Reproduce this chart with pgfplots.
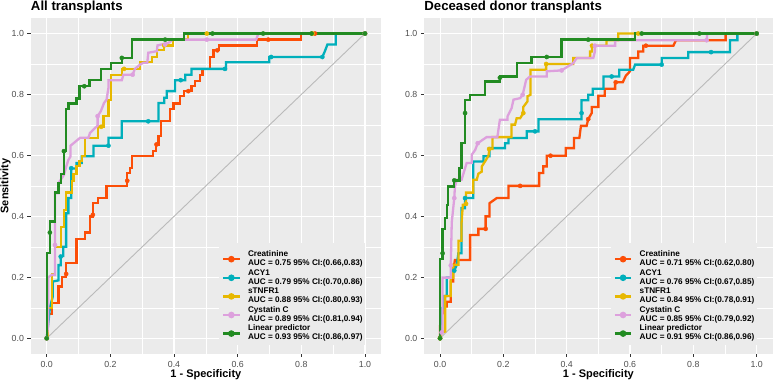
\documentclass[border=0pt]{standalone}
\usepackage{fontspec}
\setmainfont{Liberation Sans}
\usepackage{pgfplots}
\pgfplotsset{compat=1.18}
\definecolor{ggbg}{HTML}{EBEBEB}
\definecolor{cCre}{HTML}{FC4E07}
\definecolor{cACY}{HTML}{00AFBB}
\definecolor{cTNF}{HTML}{E7B800}
\definecolor{cCys}{HTML}{DDA0DD}
\definecolor{cLin}{HTML}{228B22}
\definecolor{ticktext}{HTML}{4D4D4D}
\definecolor{tickmark}{HTML}{333333}
\pgfplotsset{
  ggroc/.style={
    scale only axis, height=335.2bp,
    xmin=-0.05, xmax=1.05, ymin=-0.05, ymax=1.05,
    axis background/.style={fill=ggbg},
    axis line style={draw=none},
    xtick={0,0.2,0.4,0.6,0.8,1}, xticklabels={0.0,0.2,0.4,0.6,0.8,1.0},
    ytick={0,0.2,0.4,0.6,0.8,1}, yticklabels={0.0,0.2,0.4,0.6,0.8,1.0},
    minor xtick={0.1,0.3,0.5,0.7,0.9}, minor ytick={0.1,0.3,0.5,0.7,0.9},
    grid=both,
    major grid style={white, line width=1.07bp},
    minor grid style={white, line width=0.53bp},
    tick align=outside, tick pos=left,
    major tick length=3.3bp, minor tick length=0pt,
    every tick/.style={tickmark, line width=0.53bp},
    tick label style={font=\fontsize{8.8bp}{10bp}\selectfont, text=ticktext},
    xticklabel style={yshift=-1bp},
    xlabel={1 - Specificity}, ylabel={Sensitivity},
    label style={font=\fontsize{11bp}{13bp}\selectfont\bfseries},
    xlabel style={at={(axis description cs:0.5,-0.0716)}, anchor=base, inner sep=0pt},
    ylabel style={at={(axis description cs:-0.0723,0.5)}, anchor=center, inner sep=0pt},
    every axis title shift=0pt,
    title style={at={(0,1)}, anchor=base west, yshift=7.3bp, inner sep=0pt,
      font=\fontsize{13.2bp}{15bp}\selectfont\bfseries},
    legend style={fill=ggbg, draw=none,
      font=\fontsize{8.2bp}{9bp}\selectfont\bfseries,
      inner xsep=2.7bp, inner ysep=2bp, row sep=0.6bp, column sep=7.2bp,
      nodes={inner sep=0pt, text depth=}, cells={anchor=west}},
    legend image code/.code={
      \draw[#1,mark=none] (0bp,0bp) -- (16.6bp,0bp);
      \draw[#1,only marks] plot coordinates {(8.3bp,0bp)};},
  },
  roc/.style={#1, line width=2.3bp, mark=none, forget plot},
  pts/.style={#1, only marks, mark=*, mark size=2.1bp, mark options={solid, fill=#1, draw=#1}, forget plot},
  diag/.style={color=black!27, line width=0.9bp, forget plot},
}
\begin{document}
\begin{tikzpicture}
\useasboundingbox (0,0) rectangle (774bp,382bp);
% ---------------- Left panel ----------------
\begin{axis}[ggroc, at={(30.8bp,28.5bp)}, anchor=south west, width=350.1bp,
  title={All transplants},
  legend style={at={(0.5376,0.026)}, anchor=south west}]
\addplot[diag] coordinates {(0,0) (1,1)};
% Creatinine
\addplot[roc=cCre] coordinates {(0,0)(0.005,0)(0.005,0.08)(0.016,0.08)(0.016,0.115)(0.037,0.115)(0.037,0.17)(0.047,0.17)(0.047,0.2)(0.061,0.2)(0.061,0.248)(0.094,0.248)(0.094,0.325)(0.12,0.325)(0.12,0.347)(0.136,0.347)(0.136,0.40)(0.145,0.40)(0.145,0.443)(0.162,0.443)(0.162,0.46)(0.188,0.46)(0.188,0.50)(0.253,0.50)(0.253,0.542)(0.262,0.542)(0.262,0.558)(0.269,0.558)(0.269,0.597)(0.335,0.597)(0.335,0.614)(0.343,0.614)(0.343,0.636)(0.351,0.636)(0.351,0.663)(0.358,0.663)(0.358,0.712)(0.387,0.712)(0.387,0.753)(0.398,0.753)(0.398,0.77)(0.419,0.77)(0.419,0.794)(0.431,0.794)(0.431,0.811)(0.455,0.811)(0.455,0.827)(0.466,0.827)(0.466,0.844)(0.482,0.844)(0.482,0.865)(0.489,0.865)(0.489,0.884)(0.513,0.884)(0.513,0.923)(0.524,0.923)(0.524,0.945)(0.541,0.945)(0.541,0.961)(0.66,0.961)(0.66,0.98)(0.799,0.98)(0.799,1)(1,1)};
\addplot[pts=cCre] coordinates {(0,0)(0.061,0.211)(0.145,0.405)(0.253,0.517)(0.345,0.636)(0.445,0.811)(0.536,0.945)(0.696,0.98)(0.843,1)(1,1)};
% ACY1
\addplot[roc=cACY] coordinates {(0,0)(0.005,0.05)(0.01,0.1)(0.019,0.137)(0.019,0.186)(0.037,0.19)(0.037,0.24)(0.044,0.24)(0.044,0.27)(0.052,0.27)(0.052,0.30)(0.061,0.30)(0.061,0.41)(0.068,0.41)(0.068,0.46)(0.077,0.46)(0.077,0.557)(0.094,0.557)(0.094,0.575)(0.110,0.575)(0.110,0.597)(0.147,0.597)(0.147,0.632)(0.194,0.632)(0.194,0.658)(0.236,0.658)(0.236,0.712)(0.351,0.712)(0.351,0.772)(0.369,0.772)(0.369,0.789)(0.377,0.789)(0.377,0.811)(0.403,0.811)(0.403,0.847)(0.435,0.847)(0.435,0.865)(0.455,0.865)(0.455,0.884)(0.563,0.884)(0.563,0.906)(0.699,0.906)(0.699,0.923)(0.866,0.923)(0.874,0.942)(0.882,0.964)(0.908,0.964)(0.908,1)(1,1)};
\addplot[pts=cACY] coordinates {(0,0)(0.044,0.268)(0.077,0.558)(0.194,0.632)(0.319,0.712)(0.421,0.847)(0.56,0.884)(0.705,0.923)(0.866,0.923)(1,1)};
% sTNFR1
\addplot[roc=cTNF] coordinates {(0,0)(0.005,0)(0.005,0.1)(0.016,0.1)(0.016,0.21)(0.026,0.21)(0.026,0.30)(0.044,0.30)(0.044,0.364)(0.054,0.364)(0.054,0.421)(0.061,0.421)(0.061,0.478)(0.079,0.478)(0.079,0.517)(0.084,0.517)(0.084,0.54)(0.094,0.54)(0.094,0.565)(0.103,0.565)(0.103,0.581)(0.11,0.581)(0.11,0.597)(0.12,0.597)(0.12,0.658)(0.162,0.658)(0.162,0.694)(0.178,0.694)(0.178,0.729)(0.194,0.729)(0.194,0.783)(0.202,0.783)(0.202,0.865)(0.236,0.865)(0.236,0.884)(0.293,0.884)(0.293,0.906)(0.33,0.906)(0.33,0.923)(0.346,0.923)(0.346,0.945)(0.369,0.945)(0.369,0.961)(0.396,0.961)(0.396,0.98)(0.445,0.98)(0.445,1)(1,1)};
\addplot[pts=cTNF] coordinates {(0,0)(0.171,0.694)(0.243,0.884)(0.369,0.961)(0.503,1)(0.835,1)(1,1)};
% Cystatin C
\addplot[roc=cCys] coordinates {(0,0)(0.005,0.05)(0.005,0.2)(0.016,0.208)(0.026,0.208)(0.026,0.476)(0.037,0.476)(0.037,0.509)(0.044,0.52)(0.054,0.536)(0.063,0.569)(0.068,0.585)(0.075,0.597)(0.075,0.632)(0.105,0.658)(0.131,0.658)(0.136,0.674)(0.16,0.698)(0.16,0.729)(0.17,0.745)(0.18,0.772)(0.188,0.783)(0.194,0.822)(0.194,0.847)(0.236,0.847)(0.241,0.865)(0.27,0.865)(0.277,0.884)(0.293,0.898)(0.304,0.904)(0.316,0.904)(0.319,0.937)(0.346,0.942)(0.348,0.961)(0.382,0.969)(0.396,0.98)(0.658,0.98)(0.665,1)(1,1)};
\addplot[pts=cCys] coordinates {(0,0)(0.026,0.306)(0.16,0.729)(0.27,0.865)(0.372,0.964)(0.503,0.98)(1,1)};
% Linear predictor
\addplot[roc=cLin] coordinates {(0,0)(0,0.279)(0.01,0.279)(0.01,0.383)(0.026,0.383)(0.026,0.478)(0.037,0.478)(0.037,0.509)(0.044,0.509)(0.044,0.54)(0.054,0.54)(0.054,0.614)(0.061,0.614)(0.061,0.753)(0.068,0.753)(0.068,0.77)(0.094,0.77)(0.094,0.787)(0.103,0.787)(0.103,0.827)(0.134,0.827)(0.134,0.847)(0.170,0.847)(0.170,0.884)(0.202,0.884)(0.202,0.904)(0.236,0.904)(0.236,0.92)(0.267,0.92)(0.267,0.98)(0.431,0.98)(0.431,1)(1,1)};
\addplot[pts=cLin] coordinates {(0,0)(0.01,0.347)(0.054,0.614)(0.118,0.827)(0.236,0.92)(0.372,0.98)(0.521,1)(0.68,1)(0.832,1)(1,1)};
% legend
\addlegendimage{empty legend}\addlegendentry{\rule{0pt}{5bp}}
\addlegendimage{cCre, line width=2.3bp, mark=*, mark size=2.1bp, mark options={solid}}
\addlegendentry{\begin{tabular}{@{}l@{}}Creatinine\\AUC = 0.75 95\% CI:(0.66,0.83)\end{tabular}}
\addlegendimage{cACY, line width=2.3bp, mark=*, mark size=2.1bp, mark options={solid}}
\addlegendentry{\begin{tabular}{@{}l@{}}ACY1\\AUC = 0.79 95\% CI:(0.70,0.86)\end{tabular}}
\addlegendimage{cTNF, line width=2.3bp, mark=*, mark size=2.1bp, mark options={solid}}
\addlegendentry{\begin{tabular}{@{}l@{}}sTNFR1\\AUC = 0.88 95\% CI:(0.80,0.93)\end{tabular}}
\addlegendimage{cCys, line width=2.3bp, mark=*, mark size=2.1bp, mark options={solid}}
\addlegendentry{\begin{tabular}{@{}l@{}}Cystatin C\\AUC = 0.89 95\% CI:(0.81,0.94)\end{tabular}}
\addlegendimage{cLin, line width=2.3bp, mark=*, mark size=2.1bp, mark options={solid}}
\addlegendentry{\begin{tabular}{@{}l@{}}Linear predictor\\AUC = 0.93 95\% CI:(0.86,0.97)\end{tabular}}
\end{axis}
% ---------------- Right panel ----------------
\begin{axis}[ggroc, at={(424.2bp,28.5bp)}, anchor=south west, width=348.3bp,
  title={Deceased donor transplants},
  ylabel={},
  legend style={at={(0.5355,0.026)}, anchor=south west}]
\addplot[diag] coordinates {(0,0) (1,1)};
% Creatinine
\addplot[roc=cCre] coordinates {(0,0)(0,0.04)(0.005,0.082)(0.011,0.082)(0.011,0.104)(0.021,0.104)(0.021,0.12)(0.034,0.12)(0.034,0.186)(0.042,0.186)(0.042,0.224)(0.047,0.257)(0.095,0.257)(0.095,0.339)(0.121,0.339)(0.121,0.359)(0.144,0.359)(0.144,0.40)(0.156,0.40)(0.156,0.443)(0.179,0.46)(0.216,0.46)(0.216,0.50)(0.313,0.50)(0.313,0.542)(0.326,0.542)(0.326,0.564)(0.337,0.564)(0.337,0.599)(0.397,0.599)(0.397,0.624)(0.423,0.624)(0.423,0.657)(0.44,0.657)(0.445,0.697)(0.463,0.697)(0.468,0.719)(0.479,0.739)(0.479,0.759)(0.50,0.759)(0.50,0.796)(0.52,0.796)(0.52,0.819)(0.553,0.819)(0.553,0.84)(0.577,0.84)(0.587,0.862)(0.6,0.876)(0.6,0.92)(0.626,0.92)(0.626,0.941)(0.642,0.941)(0.642,0.96)(0.737,0.96)(0.745,0.978)(0.902,0.978)(0.902,1)(1,1)};
\addplot[pts=cCre] coordinates {(0,0)(0.144,0.359)(0.253,0.50)(0.349,0.599)(0.468,0.719)(0.555,0.84)(0.65,0.96)(1,1)};
% ACY1
\addplot[roc=cACY] coordinates {(0,0)(0.002,0.05)(0.002,0.099)(0.011,0.099)(0.011,0.139)(0.021,0.139)(0.021,0.199)(0.034,0.199)(0.045,0.222)(0.053,0.241)(0.058,0.279)(0.068,0.279)(0.068,0.427)(0.079,0.427)(0.079,0.46)(0.105,0.46)(0.105,0.58)(0.137,0.58)(0.137,0.597)(0.156,0.597)(0.156,0.624)(0.205,0.624)(0.205,0.64)(0.216,0.64)(0.216,0.657)(0.274,0.657)(0.274,0.679)(0.311,0.679)(0.311,0.719)(0.447,0.719)(0.447,0.781)(0.468,0.781)(0.468,0.799)(0.482,0.799)(0.482,0.819)(0.516,0.819)(0.516,0.859)(0.566,0.859)(0.566,0.881)(0.61,0.881)(0.616,0.898)(0.70,0.898)(0.70,0.92)(0.784,0.92)(0.784,0.939)(0.916,0.939)(0.916,0.978)(0.939,0.978)(0.939,1)(1,1)};
\addplot[pts=cACY] coordinates {(0,0)(0.045,0.222)(0.079,0.46)(0.3,0.679)(0.447,0.739)(0.542,0.859)(0.7,0.898)(0.856,0.939)(1,1)};
% sTNFR1
\addplot[roc=cTNF] coordinates {(0,0)(0.005,0.02)(0.016,0.022)(0.016,0.139)(0.034,0.139)(0.034,0.199)(0.042,0.199)(0.042,0.241)(0.058,0.241)(0.058,0.32)(0.068,0.32)(0.068,0.38)(0.072,0.438)(0.082,0.438)(0.082,0.478)(0.105,0.478)(0.105,0.52)(0.116,0.52)(0.121,0.54)(0.132,0.547)(0.132,0.564)(0.142,0.58)(0.153,0.599)(0.156,0.621)(0.166,0.621)(0.166,0.66)(0.226,0.66)(0.226,0.701)(0.237,0.701)(0.242,0.722)(0.253,0.722)(0.263,0.739)(0.263,0.759)(0.276,0.777)(0.276,0.794)(0.286,0.799)(0.286,0.881)(0.335,0.881)(0.335,0.9)(0.421,0.9)(0.421,0.92)(0.474,0.92)(0.474,0.941)(0.48,0.941)(0.48,0.96)(0.526,0.96)(0.526,0.978)(0.563,0.978)(0.563,1)(1,1)};
\addplot[pts=cTNF] coordinates {(0,0)(0.082,0.441)(0.155,0.621)(0.263,0.739)(0.335,0.9)(0.48,0.96)(0.626,1)(1,1)};
% Cystatin C
\addplot[roc=cCys] coordinates {(0,0)(0.002,0.022)(0.008,0.022)(0.008,0.199)(0.034,0.199)(0.034,0.241)(0.037,0.38)(0.045,0.46)(0.047,0.498)(0.053,0.52)(0.068,0.52)(0.084,0.575)(0.1,0.575)(0.1,0.602)(0.111,0.618)(0.119,0.64)(0.147,0.66)(0.181,0.66)(0.189,0.717)(0.213,0.717)(0.213,0.728)(0.226,0.755)(0.232,0.783)(0.253,0.788)(0.261,0.799)(0.272,0.848)(0.284,0.859)(0.337,0.859)(0.337,0.876)(0.384,0.879)(0.421,0.903)(0.432,0.92)(0.484,0.92)(0.489,0.941)(0.489,0.96)(0.553,0.96)(0.553,0.978)(0.842,0.978)(0.844,1)(1,1)};
\addplot[pts=cCys] coordinates {(0.005,0.019)(0.034,0.239)(0.045,0.46)(0.119,0.64)(0.261,0.799)(0.384,0.879)(0.489,0.96)(0.842,0.978)(1,1)};
% Linear predictor
\addplot[roc=cLin] coordinates {(0,0)(0,0.259)(0.008,0.259)(0.008,0.359)(0.016,0.359)(0.016,0.394)(0.021,0.394)(0.021,0.438)(0.026,0.438)(0.026,0.498)(0.044,0.498)(0.044,0.518)(0.061,0.518)(0.061,0.558)(0.068,0.558)(0.068,0.64)(0.079,0.64)(0.079,0.783)(0.095,0.783)(0.095,0.799)(0.142,0.799)(0.142,0.843)(0.189,0.843)(0.189,0.859)(0.242,0.859)(0.242,0.903)(0.289,0.903)(0.289,0.923)(0.384,0.923)(0.384,0.98)(0.616,0.98)(0.616,1)(1,1)};
\addplot[pts=cLin] coordinates {(0,0)(0.008,0.279)(0.045,0.518)(0.079,0.739)(0.189,0.855)(0.337,0.923)(0.468,0.98)(0.637,1)(0.819,1)(1,1)};
% legend
\addlegendimage{empty legend}\addlegendentry{\rule{0pt}{5bp}}
\addlegendimage{cCre, line width=2.3bp, mark=*, mark size=2.1bp, mark options={solid}}
\addlegendentry{\begin{tabular}{@{}l@{}}Creatinine\\AUC = 0.71 95\% CI:(0.62,0.80)\end{tabular}}
\addlegendimage{cACY, line width=2.3bp, mark=*, mark size=2.1bp, mark options={solid}}
\addlegendentry{\begin{tabular}{@{}l@{}}ACY1\\AUC = 0.76 95\% CI:(0.67,0.85)\end{tabular}}
\addlegendimage{cTNF, line width=2.3bp, mark=*, mark size=2.1bp, mark options={solid}}
\addlegendentry{\begin{tabular}{@{}l@{}}sTNFR1\\AUC = 0.84 95\% CI:(0.78,0.91)\end{tabular}}
\addlegendimage{cCys, line width=2.3bp, mark=*, mark size=2.1bp, mark options={solid}}
\addlegendentry{\begin{tabular}{@{}l@{}}Cystatin C\\AUC = 0.85 95\% CI:(0.79,0.92)\end{tabular}}
\addlegendimage{cLin, line width=2.3bp, mark=*, mark size=2.1bp, mark options={solid}}
\addlegendentry{\begin{tabular}{@{}l@{}}Linear predictor\\AUC = 0.91 95\% CI:(0.86,0.96)\end{tabular}}
\end{axis}
\end{tikzpicture}
\end{document}
